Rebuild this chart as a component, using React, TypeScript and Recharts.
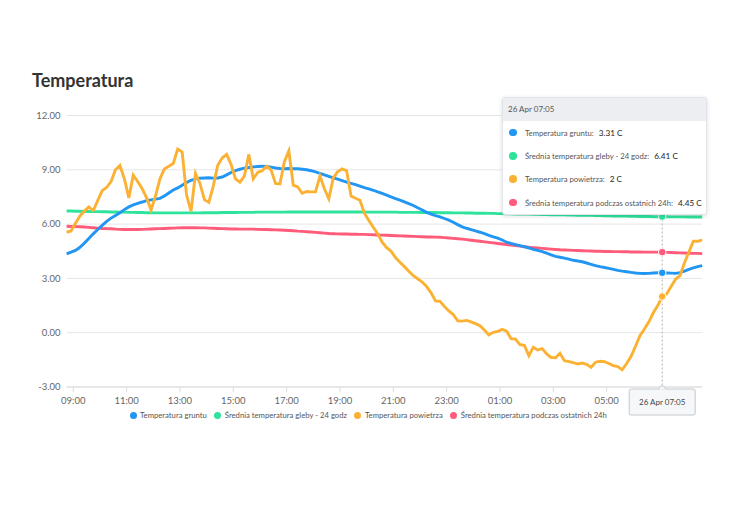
import React from 'react';
import { LineChart, Line, XAxis, YAxis, CartesianGrid, Tooltip, Legend } from 'recharts';

// time axis: minutes since 00:00 on 25 Apr, 10-minute samples from 08:45
const START_MIN = 525;
const STEP_MIN = 10;
const ACTIVE_INDEX = 134; // 26 Apr 07:05

const seriesKeys = ['gruntu', 'gleba', 'powietrze', 'srednia'];
const seriesNames = [
  'Temperatura gruntu',
  'Średnia temperatura gleby - 24 godz',
  'Temperatura powietrza',
  'Średnia temperatura podczas ostatnich 24h',
];
const seriesColors = ['#2196f3', '#2ee39c', '#fbb234', '#ff5b7a'];
const drawOrder = [1, 3, 0, 2];

const tempGruntu = [
  4.35, 4.45, 4.55, 4.72, 4.95, 5.2, 5.46, 5.7, 5.93, 6.15, 6.33, 6.48,
  6.63, 6.8, 6.95, 7.06, 7.15, 7.22, 7.3, 7.34, 7.38, 7.42, 7.55, 7.72,
  7.88, 8.0, 8.15, 8.3, 8.42, 8.5, 8.53, 8.55, 8.56, 8.54, 8.55, 8.6,
  8.72, 8.85, 8.95, 9.03, 9.09, 9.13, 9.16, 9.18, 9.2, 9.19, 9.15, 9.1,
  9.07, 9.06, 9.07, 9.06, 9.06, 9.03, 9.0, 8.95, 8.88, 8.8, 8.72, 8.64,
  8.56, 8.48, 8.4, 8.32, 8.25, 8.18, 8.1, 8.02, 7.95, 7.87, 7.78, 7.7,
  7.6, 7.5, 7.41, 7.32, 7.23, 7.13, 7.03, 6.9, 6.78, 6.65, 6.55, 6.47,
  6.4, 6.31, 6.22, 6.1, 5.97, 5.85, 5.77, 5.7, 5.62, 5.55, 5.47, 5.38,
  5.3, 5.22, 5.12, 5.0, 4.93, 4.87, 4.81, 4.75, 4.68, 4.6, 4.55, 4.48,
  4.4, 4.3, 4.22, 4.17, 4.12, 4.06, 4.0, 3.96, 3.92, 3.85, 3.78, 3.71,
  3.65, 3.6, 3.55, 3.5, 3.44, 3.4, 3.37, 3.33, 3.3, 3.28, 3.27, 3.28,
  3.3, 3.31, 3.31, 3.3, 3.29, 3.28, 3.32, 3.4, 3.5, 3.58, 3.65, 3.71,
];

const sredniaGleby = [
  6.72, 6.72, 6.71, 6.71, 6.7, 6.7, 6.69, 6.69, 6.68, 6.68, 6.67, 6.67,
  6.66, 6.66, 6.65, 6.65, 6.64, 6.64, 6.63, 6.63, 6.62, 6.62, 6.62, 6.62,
  6.62, 6.62, 6.62, 6.62, 6.62, 6.62, 6.62, 6.63, 6.63, 6.63, 6.63, 6.64,
  6.64, 6.64, 6.64, 6.65, 6.65, 6.65, 6.65, 6.66, 6.66, 6.66, 6.66, 6.66,
  6.66, 6.66, 6.67, 6.67, 6.67, 6.67, 6.67, 6.67, 6.67, 6.67, 6.67, 6.67,
  6.67, 6.67, 6.67, 6.67, 6.67, 6.67, 6.67, 6.66, 6.66, 6.66, 6.66, 6.66,
  6.66, 6.66, 6.66, 6.65, 6.65, 6.65, 6.65, 6.65, 6.64, 6.64, 6.64, 6.64,
  6.63, 6.63, 6.63, 6.62, 6.62, 6.62, 6.61, 6.61, 6.6, 6.6, 6.6, 6.59,
  6.59, 6.58, 6.58, 6.57, 6.57, 6.56, 6.56, 6.55, 6.55, 6.54, 6.54, 6.53,
  6.53, 6.52, 6.52, 6.51, 6.51, 6.5, 6.5, 6.49, 6.49, 6.48, 6.48, 6.47,
  6.47, 6.46, 6.46, 6.45, 6.45, 6.44, 6.44, 6.43, 6.43, 6.42, 6.42, 6.42,
  6.41, 6.41, 6.41, 6.41, 6.4, 6.4, 6.4, 6.4, 6.39, 6.39, 6.39, 6.39,
];

const tempPowietrza = [
  5.55, 5.62, 6.05, 6.45, 6.72, 6.95, 6.75, 7.3, 7.85, 8.02, 8.35, 9.0,
  9.24, 8.5, 7.45, 8.7, 8.35, 7.95, 7.45, 6.78, 7.55, 8.5, 9.05, 9.2,
  9.35, 10.15, 9.98, 7.6, 6.7, 8.8, 8.25, 7.35, 7.2, 8.1, 9.25, 9.65,
  9.85, 9.3, 8.5, 8.32, 8.65, 9.85, 8.5, 8.85, 8.95, 9.2, 9.0, 8.25,
  8.22, 9.45, 10.05, 8.15, 8.05, 7.7, 7.8, 7.78, 7.78, 8.65, 7.95, 7.4,
  8.55, 8.9, 9.05, 8.95, 7.55, 7.43, 7.32, 6.6, 6.2, 5.83, 5.45, 5.0,
  4.7, 4.5, 4.15, 3.89, 3.65, 3.4, 3.15, 2.98, 2.8, 2.55, 2.2, 1.76,
  1.73, 1.45, 1.2, 1.0, 0.66, 0.64, 0.68, 0.6, 0.5, 0.38, 0.15, -0.12,
  0.02, 0.07, 0.18, 0.08, -0.33, -0.35, -0.66, -0.7, -1.27, -0.8, -0.95, -0.88,
  -1.17, -1.37, -1.38, -1.14, -1.55, -1.6, -1.65, -1.73, -1.68, -1.75, -1.91, -1.63,
  -1.58, -1.6, -1.7, -1.82, -1.87, -2.05, -1.7, -1.3, -0.75, -0.17, 0.2, 0.6,
  1.1, 1.5, 2, 2.14, 2.55, 2.95, 3.15, 3.85, 4.45, 5.05, 5.05, 5.13,
];

const srednia24h = [
  5.88, 5.87, 5.86, 5.85, 5.84, 5.82, 5.8, 5.78, 5.76, 5.75, 5.74, 5.72,
  5.71, 5.7, 5.7, 5.7, 5.7, 5.71, 5.72, 5.73, 5.74, 5.75, 5.76, 5.77,
  5.78, 5.79, 5.8, 5.8, 5.8, 5.8, 5.79, 5.79, 5.78, 5.77, 5.76, 5.75,
  5.74, 5.73, 5.73, 5.72, 5.72, 5.72, 5.72, 5.71, 5.7, 5.7, 5.69, 5.68,
  5.67, 5.66, 5.65, 5.63, 5.61, 5.6, 5.58, 5.56, 5.54, 5.52, 5.5, 5.48,
  5.47, 5.46, 5.45, 5.45, 5.44, 5.44, 5.43, 5.43, 5.42, 5.41, 5.4, 5.39,
  5.38, 5.37, 5.36, 5.35, 5.34, 5.33, 5.32, 5.31, 5.3, 5.29, 5.29, 5.28,
  5.27, 5.25, 5.23, 5.21, 5.19, 5.17, 5.14, 5.11, 5.08, 5.05, 5.02, 4.99,
  4.96, 4.93, 4.9, 4.87, 4.84, 4.81, 4.78, 4.75, 4.72, 4.7, 4.68, 4.66,
  4.64, 4.62, 4.6, 4.58, 4.57, 4.56, 4.55, 4.54, 4.53, 4.52, 4.51, 4.5,
  4.5, 4.49, 4.49, 4.48, 4.48, 4.47, 4.47, 4.46, 4.46, 4.46, 4.45, 4.45,
  4.45, 4.45, 4.45, 4.44, 4.43, 4.42, 4.41, 4.4, 4.39, 4.38, 4.38, 4.37,
];

const xTickValues = [540, 660, 780, 900, 1020, 1140, 1260, 1380, 1500, 1620, 1740, 1865];
const xTickLabels = ['09:00', '11:00', '13:00', '15:00', '17:00', '19:00', '21:00', '23:00', '01:00', '03:00', '05:00', '26 Apr 07:05'];
const yTicks = [-3, 0, 3, 6, 9, 12];

const data = tempGruntu.map((v, i) => ({
  m: START_MIN + STEP_MIN * i,
  gruntu: v,
  gleba: sredniaGleby[i],
  powietrze: tempPowietrza[i],
  srednia: srednia24h[i],
}));

const pad = (n: number) => (n < 10 ? '0' + n : '' + n);
const formatFull = (m: number) => {
  const day = m >= 1440 ? 26 : 25;
  const mm = m % 1440;
  return `${day} Apr ${pad(Math.floor(mm / 60))}:${pad(mm % 60)}`;
};

const FONT = 'Lato, "Open Sans", sans-serif';

const XTick = (props: any) => {
  const { x, y, payload } = props;
  const idx = xTickValues.indexOf(payload.value);
  const label = idx >= 0 ? xTickLabels[idx] : '';
  if (payload.value === 1865) {
    const top = y - 8.5;
    return (
      <g>
        <rect x={x - 33} y={top} width={66} height={26} rx={2} fill="#f6f7f9" stroke="#c3c9d0" strokeWidth={1} />
        <polygon points={`${x - 4},${top + 0.6} ${x},${top - 3.5} ${x + 4},${top + 0.6}`} fill="#f6f7f9" />
        <polyline points={`${x - 4},${top} ${x},${top - 4} ${x + 4},${top}`} fill="none" stroke="#c3c9d0" strokeWidth={1} />
        <text x={x} y={top + 13} dy="0.35em" textAnchor="middle" fontFamily={FONT} fontSize={8} fill="#444">
          {label}
        </text>
      </g>
    );
  }
  return (
    <text x={x} y={y} dy="0.71em" textAnchor="middle" fontFamily={FONT} fontSize={9.5} fill="#666">
      {label}
    </text>
  );
};

const TooltipBox = ({ active, payload, label }: any) => {
  if (!active || !payload || !payload.length) return null;
  const rows = [...payload].sort(
    (a: any, b: any) => seriesKeys.indexOf(a.dataKey) - seriesKeys.indexOf(b.dataKey)
  );
  return (
    <div
      style={{
        width: 205,
        boxSizing: 'border-box',
        background: '#fff',
        border: '1px solid #e1e4e8',
        borderRadius: 3,
        boxShadow: '0 1px 4px rgba(0,0,0,0.14)',
        fontFamily: FONT,
        fontSize: 7.7,
        color: '#555',
        overflow: 'hidden',
      }}
    >
      <div style={{ height: 23, lineHeight: '23px', background: '#eceef1', paddingLeft: 5, color: '#555', fontSize: 8 }}>
        {formatFull(Number(label))}
      </div>
      {rows.map((p: any) => (
        <div key={p.dataKey} style={{ height: 23.3, display: 'flex', alignItems: 'center', paddingLeft: 6, whiteSpace: 'nowrap' }}>
          <span style={{ display: 'inline-block', flex: '0 0 auto', width: 7.5, height: 7.5, borderRadius: '50%', background: p.color, marginRight: 8.5 }} />
          <span>{p.name}:</span>
          <span style={{ marginLeft: 5, color: '#222', fontSize: 8.2 }}>{p.value} C</span>
        </div>
      ))}
    </div>
  );
};

const LegendRow = () => (
  <div style={{ display: 'flex', alignItems: 'center', height: 12, fontFamily: FONT, fontSize: 7.7, color: '#555', whiteSpace: 'nowrap' }}>
    {seriesNames.map((n, i) => (
      <span key={n} style={{ display: 'inline-flex', alignItems: 'center', marginRight: 7.5 }}>
        <span style={{ display: 'inline-block', width: 7, height: 7, borderRadius: '50%', background: seriesColors[i], marginRight: 3.5 }} />
        {n}
      </span>
    ))}
  </div>
);

export default function App() {
  return (
    <div style={{ position: 'relative', width: 734, height: 480, fontFamily: FONT }}>
      <div
        style={{
          position: 'absolute',
          left: 24,
          top: 63,
          fontSize: 18,
          lineHeight: '18px',
          fontWeight: 700,
          color: '#333',
          fontFamily: FONT,
          zIndex: 2,
        }}
      >
        Temperatura
      </div>
      <LineChart width={734} height={480} data={data} margin={{ top: 107.5, right: 39.8, left: 0, bottom: 59 }}>
        <CartesianGrid vertical={false} stroke="#e6e6e6" />
        <XAxis
          dataKey="m"
          type="number"
          domain={[525, 1955]}
          ticks={xTickValues}
          interval={0}
          height={30}
          tick={<XTick />}
          tickSize={5}
          tickMargin={5.5}
          axisLine={{ stroke: '#dcdcdc' }}
          tickLine={{ stroke: '#dcdcdc' }}
        />
        <YAxis
          type="number"
          domain={[-3, 12]}
          ticks={yTicks}
          width={58.6}
          axisLine={false}
          tickLine={false}
          tickSize={4}
          tickMargin={2}
          tickFormatter={(v: number) => v.toFixed(2)}
          tick={{ fontFamily: FONT, fontSize: 9.5, fill: '#666' }}
        />
        <Tooltip
          defaultIndex={ACTIVE_INDEX}
          active={true}
          position={{ x: 494, y: 89 }}
          content={<TooltipBox />}
          cursor={{ stroke: '#b5b5b5', strokeWidth: 1, strokeDasharray: '2 2' }}
          isAnimationActive={false}
          wrapperStyle={{ outline: 'none', zIndex: 5 }}
        />
        <Legend
          verticalAlign="bottom"
          height={12}
          content={() => <LegendRow />}
          wrapperStyle={{ left: 121.5, top: 401, bottom: 'auto', width: 'auto' }}
        />
        {drawOrder.map((i) => (
          <Line
            key={seriesKeys[i]}
            type="linear"
            dataKey={seriesKeys[i]}
            name={seriesNames[i]}
            stroke={seriesColors[i]}
            strokeWidth={2.9}
            dot={false}
            activeDot={{ r: 3.8, fill: seriesColors[i], stroke: '#fff', strokeWidth: 1 }}
            isAnimationActive={false}
          />
        ))}
      </LineChart>
    </div>
  );
}
